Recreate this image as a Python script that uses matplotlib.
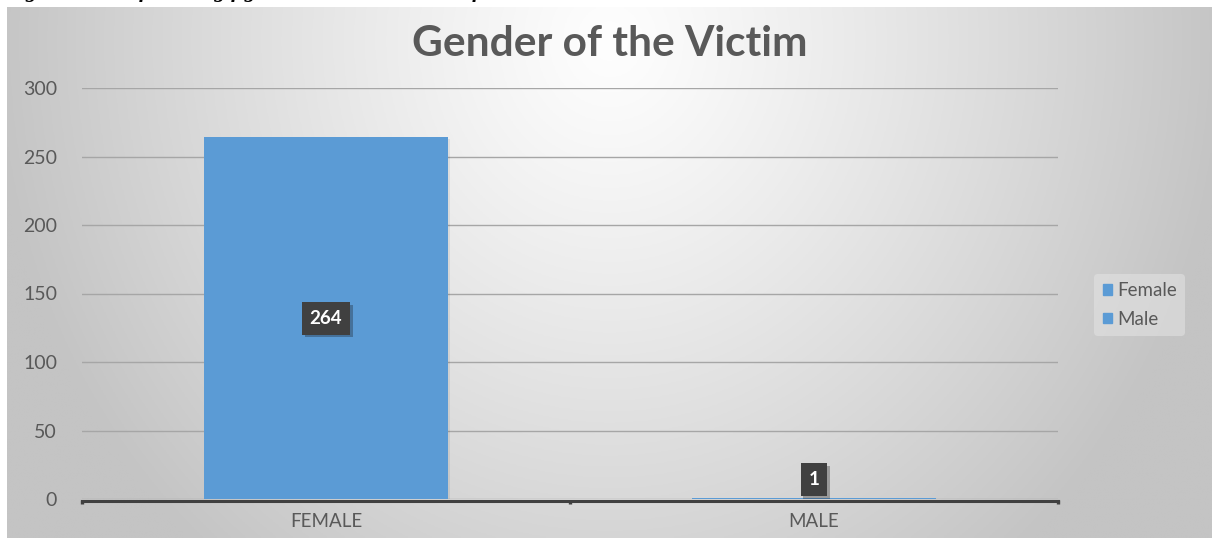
import numpy as np
import matplotlib
matplotlib.use("Agg")
import matplotlib.pyplot as plt
import matplotlib.patheffects as pe
from matplotlib.patches import Rectangle

categories = ["FEMALE", "MALE"]
counts = [264, 1]
series_names = ["Female", "Male"]
y_ticks = [0, 50, 100, 150, 200, 250, 300]
title = "Gender of the Victim"
caption = "Figure 3: The following figure shows the Gender of the Victim"

BAR = "#5b9bd5"
TXT = "#595959"

W, H = 1212, 538
fig = plt.figure(figsize=(W / 100, H / 100), dpi=100)
fig.patch.set_facecolor("white")

# Chart area with a soft radial gradient background
bg = fig.add_axes([7 / W, 0, 1 - 7 / W, (H - 7) / H])
bg.set_axis_off()
gx = np.linspace(7, W, 400)
gy = np.linspace(7, H, 200)
X, Y = np.meshgrid(gx, gy)
r = np.sqrt(((X - 610) / 620) ** 2 + ((Y - 40) / 680) ** 2)
vals = np.clip(254 - 58 * r ** 1.15, 196, 254) / 255.0
img = np.dstack([vals, vals, vals])
bg.imshow(img, aspect="auto", extent=[0, 1, 0, 1], origin="upper")
bg.set_xlim(0, 1)
bg.set_ylim(0, 1)

# Caption running off the top edge of the figure
fig.text(0.004, 1.0 + 3 / H, caption, ha="left", va="baseline",
         fontsize=16, fontweight="bold", fontstyle="italic",
         family="Liberation Serif", color="black")

ax = fig.add_axes([82 / W, (H - 499) / H, 976 / W, 411 / H])
ax.set_facecolor("none")
for s in ["top", "right", "left"]:
    ax.spines[s].set_visible(False)
ax.spines["bottom"].set_position(("outward", 1.2))
ax.spines["bottom"].set_color("#404040")
ax.spines["bottom"].set_linewidth(2.2)
ax.spines["bottom"].set_zorder(6)

x = np.arange(len(categories))
bars = ax.bar(x, counts, width=0.5, color=BAR, zorder=5)
for b in bars:
    b.set_path_effects([pe.SimplePatchShadow(offset=(1.5, -1.5), shadow_rgbFace="#000000", alpha=0.07),
                        pe.Normal()])

ax.set_xlim(-0.5, 1.5)
ax.set_ylim(0, 300)
ax.set_yticks(y_ticks)
ax.set_yticklabels([str(v) for v in y_ticks], fontsize=14, color=TXT, family="Lato")
ax.yaxis.grid(True, color="#a6a6a6", linewidth=1.0, zorder=0)
ax.set_axisbelow(True)
ax.tick_params(axis="y", length=0, pad=18)

ax.set_xticks(x)
ax.set_xticklabels(categories, fontsize=13.5, color=TXT, family="Lato")
ax.tick_params(axis="x", length=0, pad=9)

# category separator ticks on the axis line
for tx in [-0.5, 0.5, 1.5]:
    ax.plot([tx, tx], [-0.8, -4.0], color="#404040", lw=2.4, clip_on=False, zorder=6,
            solid_capstyle="butt")

# Data labels
label_pos = [counts[0] / 2, counts[1] + 13]
for xi, v, yp in zip(x, counts, label_pos):
    ax.text(xi, yp, str(v), ha="center", va="center", color="white",
            fontsize=13.5, fontweight="bold", family="Lato", zorder=7,
            bbox=dict(boxstyle="square,pad=0.42", facecolor="#404040", edgecolor="none",
                      path_effects=[pe.SimplePatchShadow(offset=(2, -2), alpha=0.3), pe.Normal()]))

# Title
fig.text(610 / W, 1 - 44 / H, title, ha="center", va="center", fontsize=30.5,
         fontweight="bold", color=TXT, family="Lato")

# Legend
handles = [Rectangle((0, 0), 1, 1, color=BAR) for _ in series_names]
leg = fig.legend(handles, series_names, loc="center left",
                 bbox_to_anchor=(1085 / W, 1 - 305 / H), frameon=True,
                 fontsize=13.5, handlelength=0.5, handleheight=0.5,
                 handletextpad=0.25, labelspacing=0.6, borderpad=0.45)
leg.get_frame().set_facecolor("#e2e2e2")
leg.get_frame().set_edgecolor("none")
leg.get_frame().set_alpha(0.6)
for t in leg.get_texts():
    t.set_color(TXT)
    t.set_family("Lato")

fig.savefig("out.png", dpi=100)
